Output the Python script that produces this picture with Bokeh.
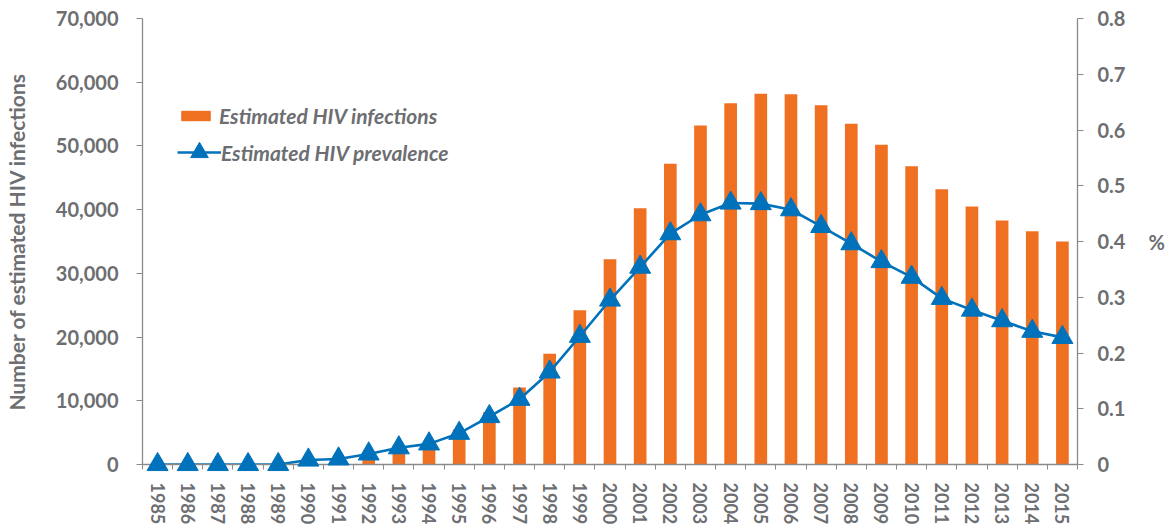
from bokeh.plotting import figure
from bokeh.models import (Range1d, LinearAxis, FixedTicker, Legend, LegendItem,
                          ColumnDataSource)
from bokeh.embed import file_html
from bokeh.resources import INLINE

years = list(range(1985, 2016))
infections = [0, 0, 0, 0, 0, 200, 400, 900, 2000, 2600, 5500, 8200, 12100, 17400,
              24200, 32200, 40200, 47200, 53200, 56700, 58200, 58100, 56400, 53500,
              50200, 46800, 43200, 40500, 38300, 36600, 35000]
prevalence = [0, 0, 0, 0, 0, 0.008, 0.01, 0.019, 0.03, 0.037, 0.056, 0.086, 0.117,
              0.166, 0.23, 0.295, 0.354, 0.414, 0.448, 0.469, 0.468, 0.457, 0.427,
              0.396, 0.364, 0.336, 0.298, 0.277, 0.258, 0.239, 0.228]
left_ticks = [0, 10000, 20000, 30000, 40000, 50000, 60000, 70000]
left_labels = ["0", "10,000", "20,000", "30,000", "40,000", "50,000", "60,000", "70,000"]
right_ticks = [0, 0.1, 0.2, 0.3, 0.4, 0.5, 0.6, 0.7, 0.8]
right_labels = ["0", "0.1", "0.2", "0.3", "0.4", "0.5", "0.6", "0.7", "0.8"]
series_names = ["Estimated HIV infections", "Estimated HIV prevalence"]
y_title = "Number of estimated HIV infections"
y2_title = "%"

BAR = "#F07022"
BLUE = "#0072BC"
TXT = "#6d6e71"
AX = "#8a8a8a"
FONT = "Lato"

src = ColumnDataSource(dict(year=years, inf=infections, prev=prevalence))

p = figure(width=1170, height=529, output_backend="svg", toolbar_location=None,
           x_range=Range1d(years[0] - 0.5, years[-1] + 0.5),
           y_range=Range1d(0, 70000),
           min_border_left=136, min_border_right=93, min_border_top=18,
           min_border_bottom=65)
p.extra_y_ranges = {"pct": Range1d(0, 0.8)}
p.outline_line_color = None
p.xgrid.visible = False
p.ygrid.visible = False

bars = p.vbar(x="year", top="inf", width=0.42, source=src, fill_color=BAR,
              line_color=None)
line = p.line(x="year", y="prev", source=src, y_range_name="pct",
              line_color=BLUE, line_width=2.6)
pts = p.scatter(x="year", y="prev", source=src, y_range_name="pct",
                marker="triangle", size=21, fill_color=BLUE, line_color=BLUE,
                level="overlay")

# x axis
xa = p.xaxis[0]
xa.ticker = FixedTicker(ticks=years, minor_ticks=[y - 0.5 for y in years] + [years[-1] + 0.5])
xa.major_tick_out = 0
xa.major_tick_in = 0
xa.minor_tick_out = 5
xa.minor_tick_in = 0
xa.minor_tick_line_color = AX
xa.axis_line_color = AX
xa.axis_line_width = 1.3
xa.major_label_orientation = "vertical"
xa.major_label_standoff = 13
xa.major_label_overrides = {y: str(y) for y in years}
xa.major_label_text_font = FONT
xa.major_label_text_font_style = "bold"
xa.major_label_text_font_size = "18px"
xa.major_label_text_color = TXT

# left axis
ya = p.yaxis[0]
ya.ticker = FixedTicker(ticks=left_ticks)
ya.major_label_overrides = dict(zip(left_ticks, left_labels))
ya.minor_tick_line_color = None
ya.major_tick_out = 6
ya.major_tick_in = 0
ya.major_tick_line_color = AX
ya.axis_line_color = AX
ya.axis_line_width = 1.3
ya.major_label_standoff = 18
ya.major_label_text_font = FONT
ya.major_label_text_font_style = "bold"
ya.major_label_text_font_size = "20px"
ya.major_label_text_color = TXT
ya.axis_label = y_title
ya.axis_label_standoff = 24
ya.axis_label_text_font = FONT
ya.axis_label_text_font_style = "bold"
ya.axis_label_text_font_size = "21px"
ya.axis_label_text_color = TXT

# right axis
ra = LinearAxis(y_range_name="pct", ticker=FixedTicker(ticks=right_ticks))
ra.major_label_overrides = dict(zip(right_ticks, right_labels))
ra.minor_tick_line_color = None
ra.major_tick_out = 6
ra.major_tick_in = 0
ra.major_tick_line_color = AX
ra.axis_line_color = AX
ra.axis_line_width = 1.3
ra.major_label_standoff = 14
ra.major_label_text_font = FONT
ra.major_label_text_font_style = "bold"
ra.major_label_text_font_size = "20px"
ra.major_label_text_color = TXT
ra.axis_label = y2_title
ra.axis_label_orientation = "horizontal"
ra.axis_label_standoff = 20
ra.axis_label_text_font = FONT
ra.axis_label_text_font_style = "bold"
ra.axis_label_text_font_size = "20px"
ra.axis_label_text_color = TXT
p.add_layout(ra, "right")

def style_legend(lg, standoff):
    lg.border_line_color = None
    lg.background_fill_alpha = 0
    lg.padding = 0
    lg.margin = 0
    lg.spacing = 0
    lg.label_standoff = standoff
    lg.label_text_font = FONT
    lg.label_text_font_style = "bold italic"
    lg.label_text_font_size = "21px"
    lg.label_text_color = TXT

leg1 = Legend(items=[LegendItem(label=series_names[0], renderers=[bars])],
              location=(35, 336), glyph_width=37, glyph_height=13, label_height=13)
style_legend(leg1, 5)
leg2 = Legend(items=[LegendItem(label=series_names[1], renderers=[line, pts])],
              location=(35, 290), glyph_width=44, glyph_height=44, label_height=44)
style_legend(leg2, 0)
p.add_layout(leg1, "center")
p.add_layout(leg2, "center")

open("out.html", "w").write(file_html(p, INLINE))
